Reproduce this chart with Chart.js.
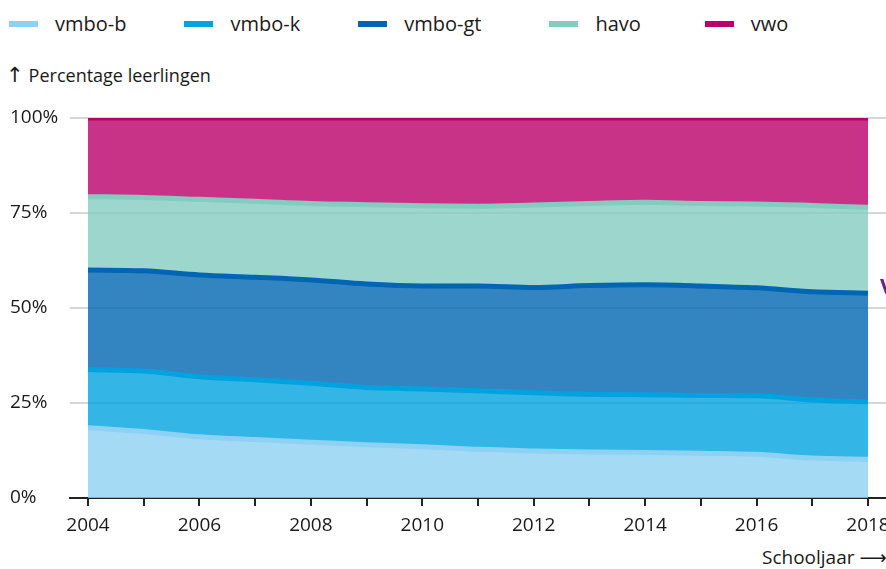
<!DOCTYPE html>
<html>
<head>
<meta charset="utf-8">
<script src="https://cdn.jsdelivr.net/npm/chart.js@4.4.0/dist/chart.umd.min.js"></script>
<style>
  html, body { margin: 0; padding: 0; background: #fff; overflow: hidden; }
  body { width: 886px; height: 569px; position: relative; font-family: 'Open Sans', sans-serif; color: #1a1a1a; }
  #wrap { position: absolute; left: 0; top: 0; width: 900px; height: 569px; }
  #legend { position: absolute; left: 9px; top: 10px; display: flex; gap: 58px; font-size: 20px; line-height: 28px; white-space: nowrap; }
  #legend .item { display: flex; align-items: center; }
  #legend .item:nth-child(4) { margin-left: 10px; }
  #legend .item:nth-child(5) { margin-left: 6px; }
  #legend .box { width: 29px; height: 6px; margin-right: 17px; }
  #ytitle { position: absolute; left: 6px; top: 63px; font-size: 18px; white-space: nowrap; }
  #ytitle .arr { font-family: 'DejaVu Sans', sans-serif; font-size: 21px; margin-right: 5px; }
  #xtitle { position: absolute; left: 762px; top: 544px; font-size: 19px; white-space: nowrap; }
  #xtitle .arr { font-family: 'DejaVu Sans', sans-serif; font-size: 19px; margin-left: 5px; }
  #stray { position: absolute; left: 880px; top: 270px; font-size: 22px; font-weight: bold; color: #6b1e8c; }
</style>
</head>
<body>
<div id="legend"></div>
<div id="ytitle"><span class="arr">↑</span>Percentage leerlingen</div>
<div id="xtitle">Schooljaar<span class="arr">⟶</span></div>
<div id="wrap"><canvas id="chart"></canvas></div>
<div id="stray">V</div>
<script>
  const YEARS   = [2004, 2005, 2006, 2007, 2008, 2009, 2010, 2011, 2012, 2013, 2014, 2015, 2016, 2017, 2018];
  const VMBO_B  = [18.5, 17.5, 16.1, 15.4, 14.7, 14.0, 13.5, 12.8, 12.4, 12.1, 12.0, 11.8, 11.5, 10.5, 10.2];
  const VMBO_K  = [15.3, 15.9, 15.8, 15.7, 15.5, 15.1, 15.2, 15.4, 15.3, 15.2, 15.2, 15.2, 15.4, 15.3, 15.1];
  const VMBO_GT = [26.2, 26.4, 26.8, 27.0, 27.2, 27.2, 27.1, 27.6, 27.7, 28.6, 28.9, 28.8, 28.4, 28.5, 28.6];
  const HAVO    = [19.3, 19.3, 19.9, 20.0, 20.1, 20.9, 21.1, 21.0, 21.7, 21.6, 21.7, 21.7, 22.1, 22.7, 22.6];
  const VWO     = [20.7, 20.9, 21.4, 21.9, 22.5, 22.8, 23.1, 23.2, 22.9, 22.5, 22.2, 22.5, 22.6, 23.0, 23.5];
  const Y_TICKS = [0, 25, 50, 75, 100];

  const SERIES = [
    { label: 'vmbo-b',  values: VMBO_B,  color: '#8fd1f3' },
    { label: 'vmbo-k',  values: VMBO_K,  color: '#00a3e0' },
    { label: 'vmbo-gt', values: VMBO_GT, color: '#0066b3' },
    { label: 'havo',    values: HAVO,    color: '#84ccbf' },
    { label: 'vwo',     values: VWO,     color: '#bb0069' },
  ];

  // legend
  const legend = document.getElementById('legend');
  SERIES.forEach(s => {
    legend.insertAdjacentHTML('beforeend',
      `<div class="item"><span class="box" style="background:${s.color}"></span>${s.label}</div>`);
  });

  function alpha(hex, a) {
    const n = parseInt(hex.slice(1), 16);
    return `rgba(${n >> 16},${(n >> 8) & 255},${n & 255},${a})`;
  }

  const datasets = SERIES.map((s, i) => ({
    label: s.label,
    data: YEARS.map((yr, j) => ({ x: yr, y: s.values[j] })),
    borderColor: s.color,
    backgroundColor: alpha(s.color, 0.8),
    borderWidth: 5,
    pointRadius: 0,
    cubicInterpolationMode: 'monotone',
    fill: i === 0 ? 'origin' : '-1',
  }));

  Chart.defaults.font.family = "'Open Sans', sans-serif";
  Chart.defaults.color = '#1a1a1a';

  new Chart(document.getElementById('chart'), {
    type: 'line',
    data: { datasets },
    options: {
      responsive: true,
      maintainAspectRatio: false,
      animation: false,
      layout: { padding: { top: 118, left: 10, right: 14, bottom: 31 } },
      plugins: { legend: { display: false }, tooltip: { enabled: false } },
      scales: {
        x: {
          type: 'linear',
          min: 2004 - 0.323,
          max: 2018 + 0.323,
          afterBuildTicks: axis => { axis.ticks = YEARS.map(v => ({ value: v })); },
          afterFit: axis => { axis.height = 40; },
          ticks: {
            autoSkip: false,
            maxRotation: 0,
            padding: 8,
            font: { size: 19 },
            callback: v => (v % 2 === 0 ? String(v) : ''),
          },
          grid: { drawOnChartArea: false, drawTicks: true, tickLength: 8, color: '#222', lineWidth: 2 },
          border: { display: true, color: '#222', width: 2 },
        },
        y: {
          stacked: true,
          min: 0,
          max: 100,
          afterBuildTicks: axis => { axis.ticks = Y_TICKS.map(v => ({ value: v })); },
          afterFit: axis => { axis.width = 60; },
          ticks: {
            crossAlign: 'far',
            padding: 12,
            font: { size: 19 },
            callback: v => v + '%',
          },
          grid: { color: '#d6d6d6', lineWidth: 2, drawTicks: false },
          border: { display: false },
        },
      },
    },
  });
</script>
</body>
</html>
